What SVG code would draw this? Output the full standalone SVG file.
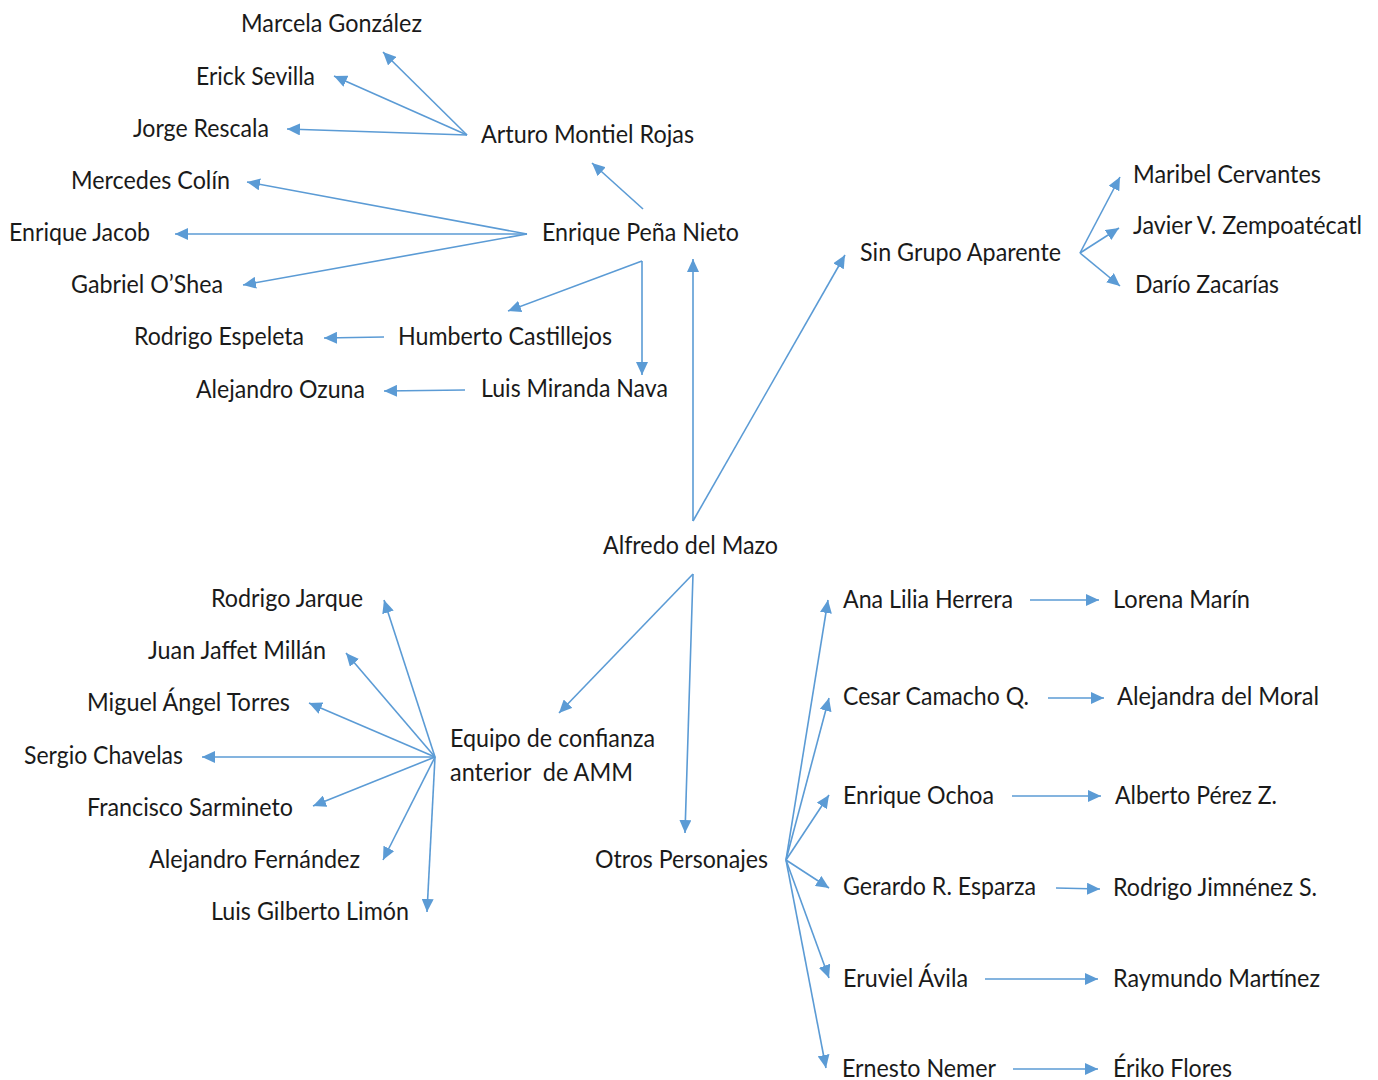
<svg xmlns="http://www.w3.org/2000/svg" width="1378" height="1080" viewBox="0 0 1378 1080">
<style>
text{font-family:Lato,"Open Sans","Liberation Sans",sans-serif;font-size:25px;fill:#1a1a1a}
.c line{stroke:#5b9bd5;stroke-width:1.6;fill:none;marker-end:url(#a)}
</style>
<defs>
<marker id="a" markerUnits="userSpaceOnUse" markerWidth="14" markerHeight="12" refX="13" refY="6" orient="auto"><path d="M0,0 L13,6 L0,12 Z" fill="#5b9bd5"/></marker>
</defs>
<rect width="1378" height="1080" fill="#fff"/>
<g class="c" id="connectors">
<line x1="467" y1="135" x2="383" y2="52"/>
<line x1="467" y1="135" x2="334" y2="76"/>
<line x1="467" y1="135" x2="287" y2="129"/>
<line x1="643" y1="209" x2="592" y2="163"/>
<line x1="527" y1="234" x2="247" y2="182"/>
<line x1="527" y1="234" x2="175" y2="234"/>
<line x1="527" y1="234" x2="243" y2="285"/>
<line x1="642" y1="261" x2="508" y2="311"/>
<line x1="642" y1="261" x2="642" y2="375"/>
<line x1="384" y1="337" x2="324" y2="338"/>
<line x1="465" y1="390" x2="384" y2="391"/>
<line x1="693" y1="521" x2="693" y2="259"/>
<line x1="693" y1="521" x2="845" y2="255"/>
<line x1="1080" y1="253" x2="1120" y2="177"/>
<line x1="1080" y1="253" x2="1119" y2="228"/>
<line x1="1080" y1="253" x2="1120" y2="286"/>
<line x1="693" y1="574" x2="559" y2="713"/>
<line x1="693" y1="574" x2="685" y2="833"/>
<line x1="435" y1="757" x2="384" y2="600"/>
<line x1="435" y1="757" x2="346" y2="653"/>
<line x1="435" y1="757" x2="309" y2="703"/>
<line x1="435" y1="757" x2="202" y2="757"/>
<line x1="435" y1="757" x2="313" y2="806"/>
<line x1="435" y1="757" x2="383" y2="860"/>
<line x1="435" y1="757" x2="427" y2="912"/>
<line x1="786" y1="860" x2="828" y2="600"/>
<line x1="786" y1="860" x2="829" y2="698"/>
<line x1="786" y1="860" x2="829" y2="795"/>
<line x1="786" y1="860" x2="829" y2="888"/>
<line x1="786" y1="860" x2="829" y2="978"/>
<line x1="786" y1="860" x2="826" y2="1068"/>
<line x1="1030" y1="600" x2="1099" y2="600"/>
<line x1="1048" y1="698" x2="1104" y2="698"/>
<line x1="1012" y1="796" x2="1101" y2="796"/>
<line x1="1056" y1="888" x2="1100" y2="889"/>
<line x1="985" y1="979" x2="1098" y2="979"/>
<line x1="1013" y1="1069" x2="1098" y2="1069"/>
</g>
<g id="n-marcela"><text x="241" y="32" textLength="181" lengthAdjust="spacingAndGlyphs">Marcela González</text></g>
<g id="n-erick"><text x="196" y="85" textLength="119" lengthAdjust="spacingAndGlyphs">Erick Sevilla</text></g>
<g id="n-jorge"><text x="133" y="137" textLength="136" lengthAdjust="spacingAndGlyphs">Jorge Rescala</text></g>
<g id="n-arturo"><text x="481" y="143" textLength="213" lengthAdjust="spacingAndGlyphs">Arturo Montiel Rojas</text></g>
<g id="n-mercedes"><text x="71" y="189" textLength="159" lengthAdjust="spacingAndGlyphs">Mercedes Colín</text></g>
<g id="n-ejacob"><text x="9" y="241" textLength="141" lengthAdjust="spacingAndGlyphs">Enrique Jacob</text></g>
<g id="n-epn"><text x="542" y="241" textLength="197" lengthAdjust="spacingAndGlyphs">Enrique Peña Nieto</text></g>
<g id="n-gabriel"><text x="71" y="293" textLength="152" lengthAdjust="spacingAndGlyphs">Gabriel O’Shea</text></g>
<g id="n-respeleta"><text x="134" y="345" textLength="170" lengthAdjust="spacingAndGlyphs">Rodrigo Espeleta</text></g>
<g id="n-humberto"><text x="398" y="345" textLength="214" lengthAdjust="spacingAndGlyphs">Humberto Castillejos</text></g>
<g id="n-aozuna"><text x="196" y="398" textLength="169" lengthAdjust="spacingAndGlyphs">Alejandro Ozuna</text></g>
<g id="n-lmiranda"><text x="481" y="397" textLength="187" lengthAdjust="spacingAndGlyphs">Luis Miranda Nava</text></g>
<g id="n-singrupo"><text x="860" y="261" textLength="201" lengthAdjust="spacingAndGlyphs">Sin Grupo Aparente</text></g>
<g id="n-maribel"><text x="1133" y="183" textLength="188" lengthAdjust="spacingAndGlyphs">Maribel Cervantes</text></g>
<g id="n-javier"><text x="1133" y="234" textLength="229" lengthAdjust="spacingAndGlyphs">Javier V. Zempoatécatl</text></g>
<g id="n-dario"><text x="1135" y="293" textLength="144" lengthAdjust="spacingAndGlyphs">Darío Zacarías</text></g>
<g id="n-alfredo"><text x="603" y="554" textLength="175" lengthAdjust="spacingAndGlyphs">Alfredo del Mazo</text></g>
<g id="n-rjarque"><text x="211" y="607" textLength="152" lengthAdjust="spacingAndGlyphs">Rodrigo Jarque</text></g>
<g id="n-jjaffet"><text x="148" y="659" textLength="178" lengthAdjust="spacingAndGlyphs">Juan Jaffet Millán</text></g>
<g id="n-miguel"><text x="87" y="711" textLength="203" lengthAdjust="spacingAndGlyphs">Miguel Ángel Torres</text></g>
<g id="n-sergio"><text x="24" y="764" textLength="159" lengthAdjust="spacingAndGlyphs">Sergio Chavelas</text></g>
<g id="n-francisco"><text x="87" y="816" textLength="206" lengthAdjust="spacingAndGlyphs">Francisco Sarmineto</text></g>
<g id="n-afernandez"><text x="149" y="868" textLength="211" lengthAdjust="spacingAndGlyphs">Alejandro Fernández</text></g>
<g id="n-lgilberto"><text x="211" y="920" textLength="198" lengthAdjust="spacingAndGlyphs">Luis Gilberto Limón</text></g>
<g id="n-equipo"><text x="450" y="747" textLength="205" lengthAdjust="spacingAndGlyphs">Equipo de confianza</text><text x="450" y="781" textLength="183" lengthAdjust="spacingAndGlyphs" xml:space="preserve">anterior  de AMM</text></g>
<g id="n-otros"><text x="595" y="868" textLength="173" lengthAdjust="spacingAndGlyphs">Otros Personajes</text></g>
<g id="n-analilia"><text x="843" y="608" textLength="170" lengthAdjust="spacingAndGlyphs">Ana Lilia Herrera</text></g>
<g id="n-lorena"><text x="1113" y="608" textLength="137" lengthAdjust="spacingAndGlyphs">Lorena Marín</text></g>
<g id="n-cesar"><text x="843" y="705" textLength="186" lengthAdjust="spacingAndGlyphs">Cesar Camacho Q.</text></g>
<g id="n-alejandra"><text x="1117" y="705" textLength="202" lengthAdjust="spacingAndGlyphs">Alejandra del Moral</text></g>
<g id="n-eochoa"><text x="843" y="804" textLength="151" lengthAdjust="spacingAndGlyphs">Enrique Ochoa</text></g>
<g id="n-alberto"><text x="1115" y="804" textLength="162" lengthAdjust="spacingAndGlyphs">Alberto Pérez Z.</text></g>
<g id="n-gerardo"><text x="843" y="895" textLength="193" lengthAdjust="spacingAndGlyphs">Gerardo R. Esparza</text></g>
<g id="n-rjimenez"><text x="1113" y="896" textLength="204" lengthAdjust="spacingAndGlyphs">Rodrigo Jimnénez S.</text></g>
<g id="n-eruviel"><text x="843" y="987" textLength="125" lengthAdjust="spacingAndGlyphs">Eruviel Ávila</text></g>
<g id="n-raymundo"><text x="1113" y="987" textLength="207" lengthAdjust="spacingAndGlyphs">Raymundo Martínez</text></g>
<g id="n-ernesto"><text x="842" y="1077" textLength="154" lengthAdjust="spacingAndGlyphs">Ernesto Nemer</text></g>
<g id="n-eriko"><text x="1113" y="1077" textLength="119" lengthAdjust="spacingAndGlyphs">Ériko Flores</text></g>
</svg>
